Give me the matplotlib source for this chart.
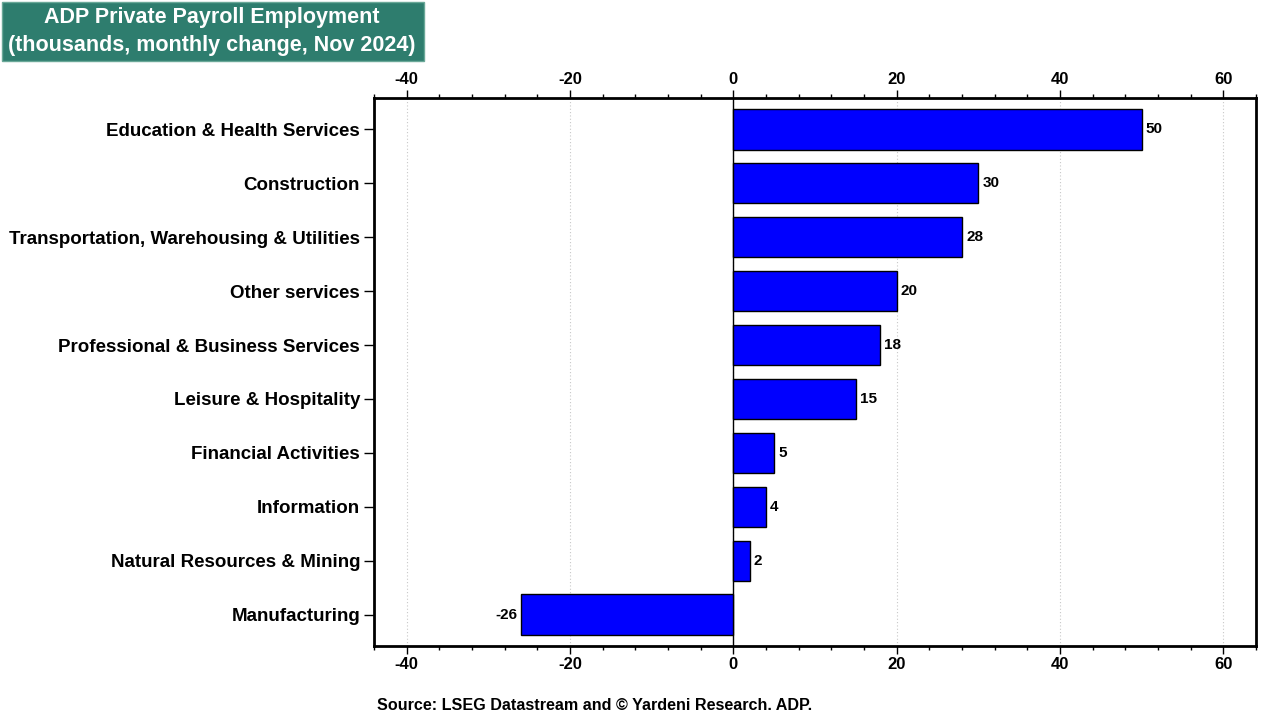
import matplotlib.pyplot as plt
from matplotlib.patches import Rectangle
from matplotlib.ticker import MultipleLocator

plt.rcParams['font.family'] = ['Liberation Sans', 'DejaVu Sans']
plt.rcParams['font.weight'] = 'bold'

categories = ["Education & Health Services", "Construction",
	"Transportation, Warehousing & Utilities", "Other services",
	"Professional & Business Services", "Leisure & Hospitality",
	"Financial Activities", "Information", "Natural Resources & Mining",
	"Manufacturing"]
values = [50, 30, 28, 20, 18, 15, 5, 4, 2, -26]
xticks = [-40, -20, 0, 20, 40, 60]

W, H = 1280., 720.
fig = plt.figure(figsize=(12.8, 7.2), dpi=100)
ax = fig.add_axes([374/W, 1 - 646/H, (1256 - 374)/W, (646 - 98)/H])

pos = list(range(len(categories)))
ax.barh(pos, values, height=0.75, color="#0000ff", edgecolor="black", linewidth=1, zorder=3)
ax.axvline(0, color="black", linewidth=1, zorder=2)
for p, v in zip(pos, values):
	if v >= 0:
		ax.text(v + 0.5, p, str(v), va="center", ha="left", fontsize=11, fontweight="bold")
	else:
		ax.text(v - 0.5, p, str(v), va="center", ha="right", fontsize=11, fontweight="bold")

ax.set_yticks(pos)
ax.set_yticklabels(categories, fontsize=13.5, fontweight="bold")
ax.set_ylim(9.58, -0.58)
ax.set_xlim(-44, 64)
ax.set_xticks(xticks)
ax.set_xticklabels([str(t) for t in xticks], fontsize=12, fontweight="bold")
ax.xaxis.set_minor_locator(MultipleLocator(4))
ax.tick_params(axis="x", which="both", top=True, labeltop=True, direction="out")
ax.tick_params(axis="x", which="major", length=6, width=1, pad=2)
ax.tick_params(axis="x", which="minor", length=3, width=1)
ax.tick_params(axis="y", length=7, width=1, pad=3)
ax.grid(axis="x", color="#c8c8c8", linestyle=(0, (1, 2)), linewidth=0.8, zorder=0)
for s in ax.spines.values():
	s.set_linewidth(2)

# title box
fig.patches.append(Rectangle((2/W, 1 - 61/H), 422/W, 59/H, transform=fig.transFigure,
	facecolor="#2e7d6e", edgecolor="#6aa898", linewidth=1))
fig.text(212/W, 1 - 17/H, "ADP Private Payroll Employment", fontsize=15.5,
	fontweight="bold", color="white", ha="center", va="center")
fig.text(212/W, 1 - 45/H, "(thousands, monthly change, Nov 2024)", fontsize=15.5,
	fontweight="bold", color="white", ha="center", va="center")

fig.text(377/W, 1 - 706/H, "Source: LSEG Datastream and \u00a9 Yardeni Research. ADP.",
	fontsize=11.6, fontweight="bold", ha="left", va="center")

fig.savefig("out.png", dpi=100)
